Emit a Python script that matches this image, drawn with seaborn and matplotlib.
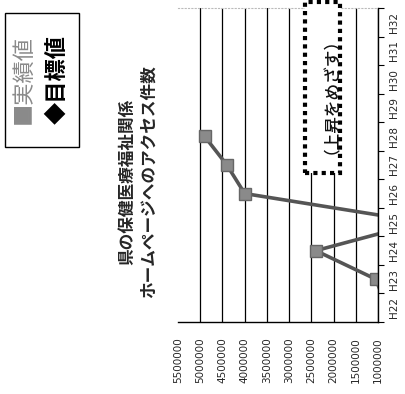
import numpy as np
import pandas as pd
import matplotlib
matplotlib.use('Agg')
import matplotlib.pyplot as plt
import seaborn as sns
from matplotlib.patches import Rectangle

# ---- data ----
years = ['H22', 'H23', 'H24', 'H25', 'H26', 'H27', 'H28', 'H29', 'H30', 'H31', 'H32']
actual_years = ['H22', 'H23', 'H24', 'H25', 'H26', 'H27', 'H28']
actual_values = [800000, 1050000, 2400000, 0, 4000000, 4400000, 4900000]
value_ticks = [1000000, 1500000, 2000000, 2500000, 3000000,
               3500000, 4000000, 4500000, 5000000, 5500000]
title_lines = ['県の保健医療福祉関係', 'ホームページへのアクセス件数']
legend_actual = '■実績値'
legend_target = '◆目標値'
target_note = '（上昇をめざす）'

sns.set_theme(style='white')
plt.rcParams['font.family'] = ['Noto Sans CJK JP', 'DejaVu Sans']

W, H = 406, 394
fig = plt.figure(figsize=(W / 100, H / 100), dpi=100)
ax = fig.add_axes([178 / W, 1 - 322 / H, 200 / W, 314 / H])

df = pd.DataFrame({
    'year': actual_years,
    'pos': [years.index(y) for y in actual_years],
    'value': actual_values,
})

sns.lineplot(data=df, x='value', y='pos', orient='y', sort=False, ax=ax,
             color='#555555', linewidth=2.6, marker='s', markersize=8.5,
             markerfacecolor='#8a8a8a', markeredgecolor='#666666',
             markeredgewidth=1)

ax.set_xlim(5500000, 1000000)
ax.set_ylim(-0.5, len(years) - 0.5)
ax.set_xlabel('')
ax.set_ylabel('')

# value axis (bottom, rotated labels)
ax.set_xticks(value_ticks)
ax.set_xticklabels([str(v) for v in value_ticks], rotation=90,
                   fontsize=7.5, family='DejaVu Sans')
ax.tick_params(axis='x', length=0, pad=11)
ax.grid(axis='x', color='black', linewidth=0.9)
ax.grid(axis='y', visible=False)
for t in ax.xaxis.get_major_ticks():
    if t.get_loc() == 5500000:
        t.gridline.set_visible(False)

# category axis (right side)
ax.yaxis.tick_right()
ax.set_yticks(range(len(years)))
ax.set_yticklabels(years, rotation=90, va='center', fontsize=7.5,
                   family='DejaVu Sans')
ax.set_yticks(np.arange(-0.5, len(years)), minor=True)
ax.tick_params(axis='y', which='major', length=0, pad=8)
ax.tick_params(axis='y', which='minor', right=True, length=4, width=0.8,
               color='black', direction='out')

ax.spines['left'].set_visible(False)
ax.spines['right'].set_color('black')
ax.spines['right'].set_linewidth(1.0)
ax.spines['bottom'].set_color('black')
ax.spines['bottom'].set_linewidth(1.0)
ax.spines['top'].set_color('#bbbbbb')
ax.spines['top'].set_linestyle((0, (1, 2)))
ax.spines['top'].set_linewidth(0.8)

# target note box
ax.add_patch(Rectangle((0.635, 0.475), 0.175, 0.544, transform=ax.transAxes,
                       fc='white', ec='black', ls=(0, (1, 1)), lw=3,
                       clip_on=False, zorder=4))
ax.text(0.725, 0.748, target_note, transform=ax.transAxes, rotation=90,
        ha='center', va='center', fontsize=12, fontweight='medium',
        color='#111111', clip_on=False, zorder=5)

# title
fig.text(138 / W, 1 - 182 / H, '\n'.join(title_lines), rotation=90,
         ha='center', va='center', fontsize=12, fontweight='bold',
         linespacing=1.2, multialignment='center')

# legend
fig.patches.append(Rectangle((5 / W, 1 - 147 / H), 74 / W, 134 / H,
                             transform=fig.transFigure, fill=False,
                             ec='black', lw=1.0))
fig.text(23 / W, 1 - 79 / H, legend_actual, rotation=90, ha='center',
         va='center', fontsize=16, color='#8a8a8a')
fig.text(57 / W, 1 - 80 / H, legend_target, rotation=90, ha='center',
         va='center', fontsize=16, color='black', fontweight='bold')

fig.savefig('out.png', dpi=100)
